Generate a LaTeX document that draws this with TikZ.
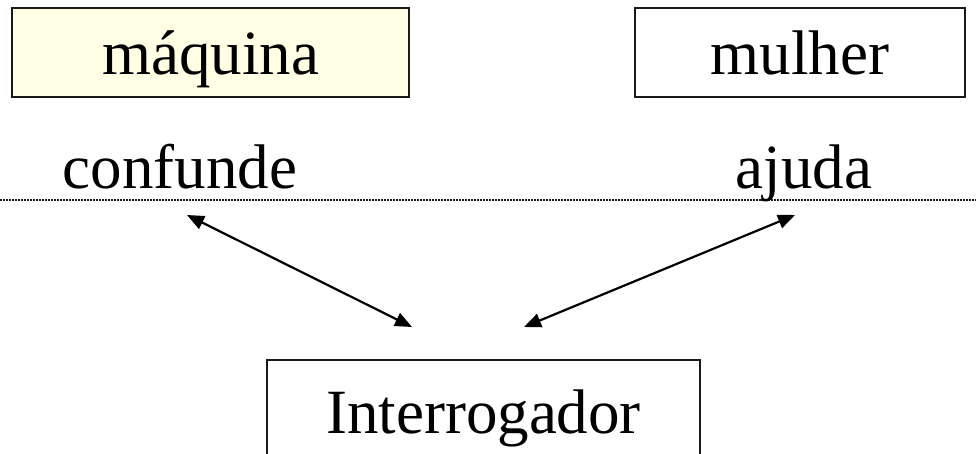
\documentclass[tikz,border=0pt]{standalone}
\usepackage{fontspec}
\setmainfont{Liberation Serif}
\usetikzlibrary{arrows.meta}
\definecolor{boxyellow}{RGB}{255,255,229}
\definecolor{edge}{RGB}{25,25,25}
\tikzset{
  actor/.style={draw=edge, line width=1.5pt, inner sep=0pt, text height=43pt, text depth=0pt,
    font=\fontsize{63}{70}\selectfont},
  lbl/.style={inner sep=0pt, anchor=base, font=\fontsize{63}{70}\selectfont},
  link/.style={line width=2.2pt, {Triangle[length=17pt,width=14pt]}-{Triangle[length=17pt,width=14pt]}},
  divider/.style={line width=1.2pt, draw=edge, dash pattern=on 1.5pt off 1.5pt}
}
\begin{document}
\begin{tikzpicture}[x=1pt,y=-1pt]
\useasboundingbox (0,0) rectangle (976,453);
\node[actor, fill=boxyellow, minimum width=397pt, minimum height=89pt] (maq) at (210.5,52.5) {máquina};
\node[actor, fill=white, minimum width=330pt, minimum height=89pt] (mul) at (800,52.5) {mulher};
\node[actor, fill=white, minimum width=433pt, minimum height=120pt, text height=26pt] (int) at (483.5,420) {Interrogador};
\coordinate (dl) at (0,200);
\coordinate (dr) at (976,200);
\draw[divider] (dl) -- (dr);
\node[lbl] (conf) at (180,188) {confunde};
\node[lbl] (aj) at (804,188) {ajuda};
\coordinate (a1) at (187,215);
\coordinate (a2) at (412,327);
\coordinate (b1) at (795,215);
\coordinate (b2) at (524,327);
\draw[link] (a1) -- (a2);
\draw[link] (b1) -- (b2);
\end{tikzpicture}
\end{document}
